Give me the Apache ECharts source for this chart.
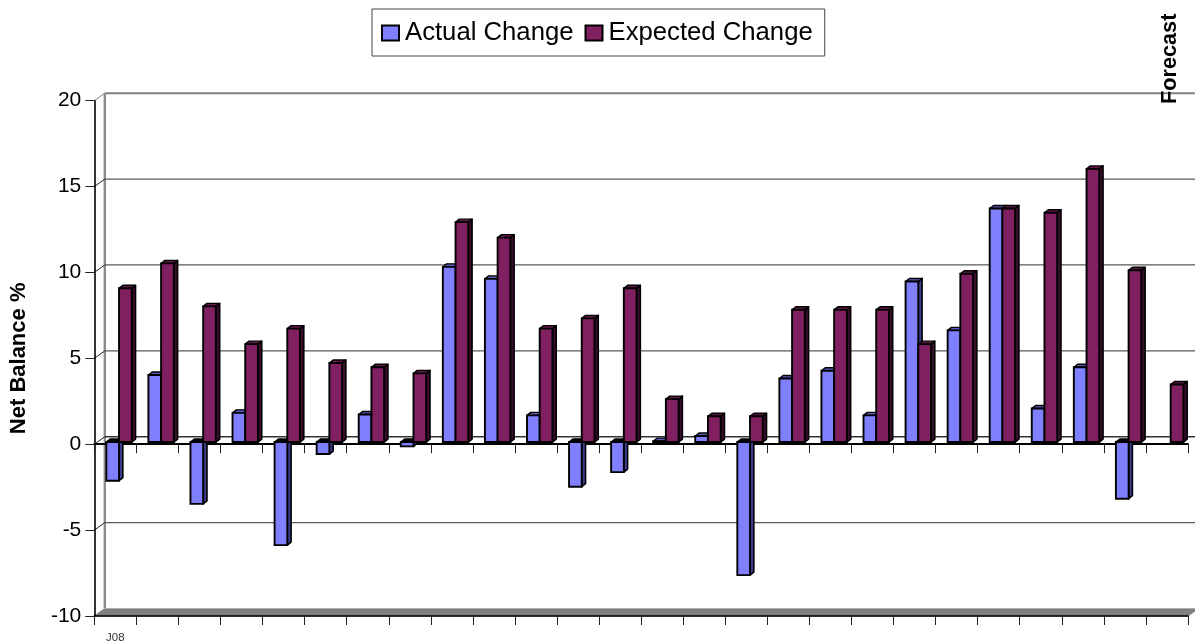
<!DOCTYPE html>
<html>
<head>
<meta charset="utf-8">
<style>html,body{margin:0;padding:0;background:#fff}#chart{width:1195px;height:644px}</style>
<script src="https://cdn.jsdelivr.net/npm/echarts@6/dist/echarts.min.js"></script>
</head>
<body>
<div id="chart"></div>
<script>
// Monthly net balance survey: actual against expected change
const monthLabels = ['J08','','','','','','','','','','','','','','','','','','','','','','','','',''];
const actualChange = [-2.25,3.9,-3.6,1.7,-6.0,-0.7,1.6,-0.25,10.2,9.5,1.55,-2.6,-1.75,0.05,0.35,-7.75,3.7,4.15,1.55,9.35,6.5,13.6,1.95,4.35,-3.3,null];
const expectedChange = [8.95,10.4,7.9,5.7,6.6,4.6,4.35,4.0,12.8,11.9,6.6,7.2,8.95,2.5,1.5,1.5,7.7,7.7,7.7,5.7,9.8,13.6,13.35,15.9,10.0,3.35];
const valueTicks = [20,15,10,5,0,-5];

// Pseudo-3D projection used by the walls and the columns
const WALL_DX = 10.5, WALL_DY = -7.5;     // front plane to back wall
const BAR_DX = 3.7, BAR_DY = -2.2;        // front plane to column face
const SIDE_DX = 3.8, SIDE_DY = -3;        // column depth
const BAR_W = 12.7;
const FONT = '"Liberation Sans", Arial, sans-serif';

function poly(points, fill, stroke, lw) {
  return {type:'polygon', shape:{points}, style:{fill, stroke, lineWidth:lw, lineJoin:'round'}};
}
function seg(x1,y1,x2,y2,stroke,lw) {
  return {type:'line', shape:{x1,y1,x2,y2}, style:{stroke, lineWidth:lw}};
}

function renderWall(params, api) {
  const cs = params.coordSys;
  const v = api.value(0);
  const y = api.coord([0, v])[1];
  const x0 = cs.x, x1 = cs.x + cs.width;
  const children = [];
  const top = v === 20;
  const zero = v === 0;
  children.push(seg(x0+WALL_DX, y+WALL_DY, x1+WALL_DX, y+WALL_DY, top ? '#808080' : (zero ? '#333' : '#5a5a5a'), top ? 2 : 1.3));
  children.push(seg(x0, y, x0+WALL_DX, y+WALL_DY, top ? '#808080' : '#222', 1));
  if (params.dataIndex === 0) {
    const by = cs.y + cs.height;
    // back-left edge and floor
    children.push(seg(x0+WALL_DX, cs.y+WALL_DY, x0+WALL_DX, by+WALL_DY, '#8c8c8c', 2.4));
    children.push(poly([[x0,by],[x1,by],[x1+WALL_DX,by+WALL_DY],[x0+WALL_DX,by+WALL_DY]], '#808080', '#808080', 1));
    children.push(seg(x0+WALL_DX, by+WALL_DY, x1+WALL_DX, by+WALL_DY, '#b0b0b0', 1));
  }
  return {type:'group', children};
}

function columnRenderer(slot, front, topFace, sideFace, underFace) {
  return function (params, api) {
    const v = api.value(1);
    if (v === null || v === undefined || isNaN(v)) return null;
    const i = api.value(0);
    const zero = api.coord([i, 0]);
    const end = api.coord([i, v]);
    const xL = zero[0] + BAR_DX + (slot === 0 ? -BAR_W : 0);
    const xR = xL + BAR_W;
    const yBase = zero[1] + BAR_DY;
    const yEnd = end[1] + BAR_DY;
    const yT = Math.min(yBase, yEnd), yB = Math.max(yBase, yEnd);
    const S = '#000';
    const neg = v < 0;
    return {type:'group', children:[
      poly([[xR,yT],[xR+SIDE_DX,yT+SIDE_DY],[xR+SIDE_DX,yB+SIDE_DY],[xR,yB]], sideFace, S, 1.6),
      poly([[xL,yT],[xL+SIDE_DX,yT+SIDE_DY],[xR+SIDE_DX,yT+SIDE_DY],[xR,yT]], neg ? underFace : topFace, S, 1.4),
      {type:'rect', shape:{x:xL,y:yT,width:BAR_W,height:yB-yT}, style:{fill:front, stroke:S, lineWidth:1.9}}
    ]};
  };
}

const chart = echarts.init(document.getElementById('chart'));
chart.setOption({
  animation:false,
  backgroundColor:'#fff',
  textStyle:{fontFamily:FONT},
  grid:{left:94.3, top:100.7, width:1093.7, height:516, containLabel:false},
  legend:{
    left:372, top:9, data:['Actual Change','Expected Change'],
    icon:'rect', itemWidth:17, itemHeight:15, itemGap:11,
    padding:[11,12,10,9],
    borderColor:'#444', borderWidth:1, backgroundColor:'#fff',
    textStyle:{fontSize:25.7, color:'#000', padding:[0,0,0,1], fontFamily:FONT}
  },
  xAxis:[
    {type:'category', data:monthLabels, position:'bottom',
     axisLine:{onZero:false, lineStyle:{color:'#000', width:1.6}},
     axisTick:{show:true, length:9, alignWithLabel:false, interval:0, lineStyle:{color:'#222'}},
     axisLabel:{show:true, interval:0, fontSize:11.5, color:'#333', margin:16},
     splitLine:{show:false}},
    {type:'category', data:monthLabels, position:'bottom',
     axisLine:{onZero:true, lineStyle:{color:'#000', width:2}},
     axisTick:{show:true, length:9, alignWithLabel:false, interval:0, lineStyle:{color:'#222'}},
     axisLabel:{show:false}, splitLine:{show:false}}
  ],
  yAxis:{type:'value', min:-10, max:20, interval:5,
    axisLine:{show:true, onZero:false, lineStyle:{color:'#000', width:1.6}},
    axisTick:{show:true, length:9, lineStyle:{color:'#222'}},
    axisLabel:{fontSize:21, color:'#000', margin:13},
    splitLine:{show:false},
    name:'Net Balance %', nameLocation:'middle', nameRotate:90, nameGap:64,
    nameTextStyle:{fontSize:22, fontWeight:'bold', color:'#000'}
  },
  graphic:[{type:'text', x:1181, y:104, rotation:Math.PI/2,
    style:{text:'Forecast', fontSize:21.7, fontWeight:'bold', fill:'#000', fontFamily:FONT, align:'left', verticalAlign:'bottom'}}],
  series:[
    {type:'custom', name:'wall', z:-1, silent:true, renderItem:renderWall,
     data:valueTicks.map(v=>[v]), encode:{y:0}, clip:false},
    {type:'custom', name:'Actual Change', z:3, clip:false,
     renderItem:columnRenderer(0,'#8080FF','#5c5cc0','#3d3d90','#000'),
     itemStyle:{color:'#8080FF', borderColor:'#000', borderWidth:1.8},
     encode:{x:0,y:1}, data:actualChange.map((v,i)=>[i,v])},
    {type:'custom', name:'Expected Change', z:4, clip:false,
     renderItem:columnRenderer(1,'#802060','#66184c','#3a0e2c','#20081a'),
     itemStyle:{color:'#802060', borderColor:'#000', borderWidth:1.8},
     encode:{x:0,y:1}, data:expectedChange.map((v,i)=>[i,v])}
  ]
});
</script>
</body>
</html>
